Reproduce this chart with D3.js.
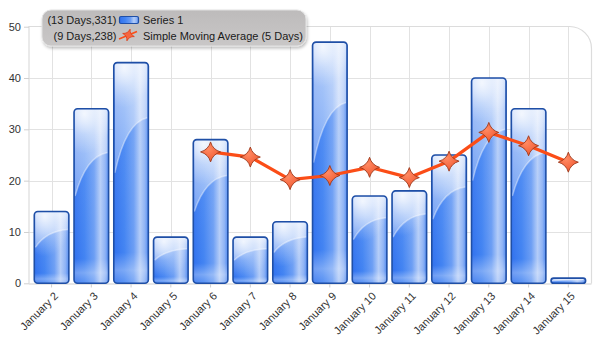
<!DOCTYPE html>
<html><head><meta charset="utf-8">
<script src="https://cdn.jsdelivr.net/npm/d3@7/dist/d3.min.js"></script>
<style>
html,body{margin:0;padding:0;background:#fff;}
svg{display:block;font-family:"Liberation Sans",Arial,sans-serif;}
</style></head>
<body>
<svg id="chart" width="601" height="343"></svg>
<script>
const categories = ["January 2","January 3","January 4","January 5","January 6","January 7","January 8","January 9","January 10","January 11","January 12","January 13","January 14","January 15"];
const series1 = [14,34,43,9,28,9,12,47,17,18,25,40,34,1];
const smaCategories = ["January 6","January 7","January 8","January 9","January 10","January 11","January 12","January 13","January 14","January 15"];
const smaValues = [25.6,24.6,20.2,21.0,22.6,20.6,23.8,29.4,26.8,23.6];
const yTicks = [0,10,20,30,40,50];
const legendRows = [
  {stat:"(13 Days,331)", name:"Series 1"},
  {stat:"(9 Days,238)", name:"Simple Moving Average (5 Days)"}
];

const svg = d3.select("#chart");
const frame = {l:29, r:591.5, t:26.5, b:283.5};
const x = d3.scaleBand().domain(categories).range([31.7,588.2]).paddingInner(0.13).paddingOuter(0.065);
const y = d3.scaleLinear().domain([0,50]).range([283.3,26.7]);

const defs = svg.append("defs");
const g1 = defs.append("linearGradient").attr("id","barBase").attr("x1","0").attr("x2","1").attr("y1","0").attr("y2","0");
[[0,"#3272ee"],[0.3,"#4384f2"],[0.58,"#6c9ef4"],[0.76,"#b3ccf8"],[0.9,"#8db2f5"],[1,"#4f89f0"]].forEach(s=>g1.append("stop").attr("offset",s[0]).attr("stop-color",s[1]));
const g2 = defs.append("linearGradient").attr("id","barV").attr("x1","0").attr("x2","0").attr("y1","0").attr("y2","1");
[[0,"#ffffff",0.35],[0.15,"#ffffff",0.1],[0.86,"#ffffff",0],[0.94,"#ffffff",0.3],[1,"#ffffff",0.1]].forEach(s=>g2.append("stop").attr("offset",s[0]).attr("stop-color",s[1]).attr("stop-opacity",s[2]));
const g3 = defs.append("radialGradient").attr("id","glow").attr("cx","0.3").attr("cy","0.1").attr("r","0.8");
[[0,"#ffffff",0.8],[0.5,"#ffffff",0.3],[1,"#ffffff",0.0]].forEach(s=>g3.append("stop").attr("offset",s[0]).attr("stop-color",s[1]).attr("stop-opacity",s[2]));
const g4 = defs.append("linearGradient").attr("id","legBg").attr("x1","0").attr("x2","0").attr("y1","0").attr("y2","1");
[[0,"#bdbbbb"],[1,"#c9c7c7"]].forEach(s=>g4.append("stop").attr("offset",s[0]).attr("stop-color",s[1]));
const g5 = defs.append("radialGradient").attr("id","starFill").attr("cx","0.4").attr("cy","0.35").attr("r","0.7");
[[0,"#ff8a63"],[1,"#f0552d"]].forEach(s=>g5.append("stop").attr("offset",s[0]).attr("stop-color",s[1]));
const g6 = defs.append("linearGradient").attr("id","upper").attr("x1","0").attr("x2","0").attr("y1","0").attr("y2","1");
[[0,"#ffffff",0.55],[1,"#ffffff",0.3]].forEach(s=>g6.append("stop").attr("offset",s[0]).attr("stop-color",s[1]).attr("stop-opacity",s[2]));
const sh = defs.append("filter").attr("id","shadow").attr("x","-10%").attr("y","-20%").attr("width","120%").attr("height","160%");
sh.append("feDropShadow").attr("dx",1).attr("dy",2).attr("stdDeviation",1.5).attr("flood-color","#000").attr("flood-opacity",0.25);

// grid
const grid = svg.append("g").attr("stroke","#e2e2e2").attr("stroke-width",1).attr("fill","none");
yTicks.filter(t=>t>0 && t<50).forEach(t=>grid.append("line").attr("x1",frame.l).attr("x2",frame.r).attr("y1",Math.round(y(t))+0.5).attr("y2",Math.round(y(t))+0.5));
categories.forEach(c=>{const cx=Math.round(x(c)+x.bandwidth()/2)+0.5;grid.append("line").attr("x1",cx).attr("x2",cx).attr("y1",frame.t).attr("y2",frame.b);});
const rr=22;
svg.append("path").attr("fill","none").attr("stroke","#dcdcdc").attr("stroke-width",1.2)
  .attr("d",`M${frame.l},${frame.b} L${frame.l},${frame.t} L${frame.r-rr},${frame.t} A${rr},${rr} 0 0 1 ${frame.r},${frame.t+rr} L${frame.r},${frame.b}`);

// y axis
const yAxis = svg.append("g").attr("transform",`translate(${frame.l},0)`)
  .call(d3.axisLeft(y).tickValues(yTicks).tickSize(5).tickPadding(3).tickFormat(d3.format("d")));
yAxis.select(".domain").remove();
yAxis.selectAll("line").attr("stroke","#d0d0d0");
yAxis.selectAll("text").attr("fill","#333").attr("font-size","11px").attr("font-family","Liberation Sans, Arial, sans-serif");

// x axis
const xAxis = svg.append("g").attr("transform",`translate(0,${frame.b})`)
  .call(d3.axisBottom(x).tickSize(4).tickSizeOuter(0));
xAxis.select(".domain").attr("stroke","#cfcfcf").attr("d",`M${frame.l},0.5H${frame.r}`);
xAxis.selectAll("line").attr("stroke","#cfcfcf");
xAxis.selectAll("text").attr("fill","#333").attr("font-size","11px").attr("font-family","Liberation Sans, Arial, sans-serif")
  .attr("text-anchor","end").attr("dy","0.3em").attr("transform","translate(0,6) rotate(-45)");

// bars
const bars = svg.append("g");
series1.forEach((v,i)=>{
  const x0 = x(categories[i]), w = x.bandwidth(), yt = y(v), yb = y(0), h = yb-yt;
  const g = bars.append("g");
  const r = Math.min(3.5,h/2);
  g.append("rect").attr("x",x0).attr("y",yt).attr("width",w).attr("height",h).attr("rx",r).attr("fill","url(#barBase)");
  g.append("rect").attr("x",x0).attr("y",yt).attr("width",w).attr("height",h).attr("rx",r).attr("fill","url(#barV)");
  const yL = yb-0.5*h, yR = yb-0.75*h;
  g.append("path").attr("fill","url(#upper)")
    .attr("d",`M${x0+1},${yt+r} Q${x0+1},${yt+1} ${x0+r},${yt+1} L${x0+w-r},${yt+1} Q${x0+w-1},${yt+1} ${x0+w-1},${yt+r} L${x0+w-1},${yR} Q${x0+w*0.35},${yR+0.02*h} ${x0+1},${yL} Z`);
  g.append("path").attr("fill","none").attr("stroke","#ffffff").attr("stroke-opacity",0.4).attr("stroke-width",1.5)
    .attr("d",`M${x0+1},${yL} Q${x0+w*0.35},${yR+0.02*h} ${x0+w-1},${yR}`);
  g.append("rect").attr("x",x0).attr("y",yt).attr("width",w).attr("height",Math.min(h,50)).attr("rx",r).attr("fill","url(#glow)");
  g.append("rect").attr("x",x0).attr("y",yt).attr("width",w).attr("height",h).attr("rx",r)
    .attr("fill","none").attr("stroke","#1f4fa6").attr("stroke-width",1.6);
});

// SMA line
function starPath(R,c){return `M0,${-R} Q${c},${-c} ${R},0 Q${c},${c} 0,${R} Q${-c},${c} ${-R},0 Q${-c},${-c} 0,${-R} Z`;}
const cxOf = c=>x(c)+x.bandwidth()/2;
svg.append("path").datum(smaValues).attr("fill","none").attr("stroke","#fb4d17").attr("stroke-width",3.2).attr("stroke-linejoin","round")
  .attr("d",d3.line().x((d,i)=>cxOf(smaCategories[i])).y(d=>y(d)));
svg.append("g").selectAll("path").data(smaValues).join("path")
  .attr("transform",(d,i)=>`translate(${cxOf(smaCategories[i])},${y(d)})`)
  .attr("d",starPath(10,2.2)).attr("fill","url(#starFill)").attr("stroke","#9e3a1c").attr("stroke-width",0.9);

// legend
const leg = svg.append("g");
leg.append("rect").attr("x",42).attr("y",10).attr("width",264).attr("height",36).attr("rx",9)
  .attr("fill","url(#legBg)").attr("stroke","#e2e2e2").attr("stroke-width",1).attr("filter","url(#shadow)");
const rowsY = [24,39.5];
legendRows.forEach((r,i)=>{
  leg.append("text").attr("x",116.5).attr("y",rowsY[i]).attr("text-anchor","end").attr("font-size","11px").attr("fill","#1a1a1a").text(r.stat);
  leg.append("text").attr("x",143).attr("y",rowsY[i]).attr("font-size","11px").attr("fill","#1a1a1a").text(r.name);
});
leg.append("rect").attr("x",119.5).attr("y",16.5).attr("width",19).attr("height",7).attr("rx",1.5).attr("fill","url(#barBase)").attr("stroke","#1f4fa6").attr("stroke-width",1.2);
leg.append("line").attr("x1",119).attr("y1",39).attr("x2",137).attr("y2",31.5).attr("stroke","#fb4d17").attr("stroke-width",1.6);
leg.append("path").attr("transform","translate(128.5,35) rotate(15)").attr("d",starPath(6,1)).attr("fill","#f7653f").attr("stroke","#e0401a").attr("stroke-width",0.8);
</script>
</body></html>
